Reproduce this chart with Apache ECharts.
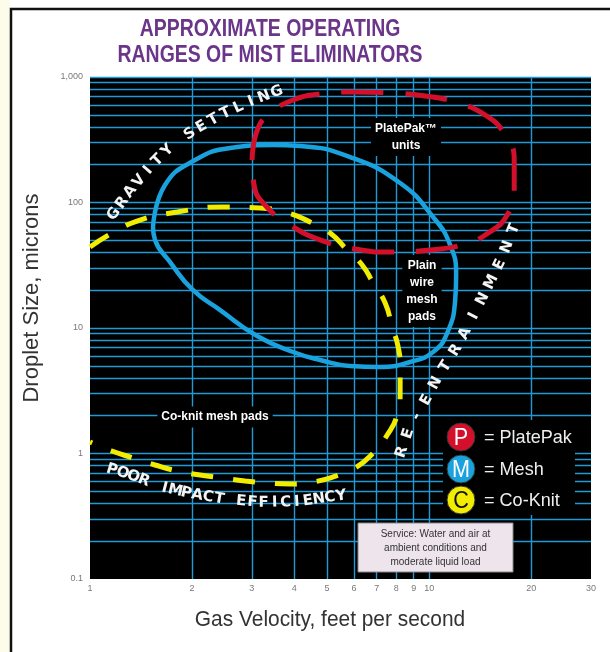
<!DOCTYPE html>
<html>
<head>
<meta charset="utf-8">
<title>Mist Eliminators</title>
<script src="https://cdn.jsdelivr.net/npm/echarts@6/dist/echarts.min.js"></script>
<style>
  html, body { margin: 0; padding: 0; background: #fff; }
  #main { width: 610px; height: 652px; }
</style>
</head>
<body>
<div id="main"></div>
<script>
    // tick labels
    var xTicks = [1, 2, 3, 4, 5, 6, 7, 8, 9, 10, 20, 30];
    var yTicks = [0.1, 1, 10, 100, 1000];
    var yTickLabels = ['0.1', '1', '10', '100', '1,000'];
    var gridX = [2, 3, 4, 5, 6, 7, 8, 9, 10, 20];
    var gridY = [0.2, 0.3, 0.4, 0.5, 0.6, 0.7, 0.8, 0.9,
                 1, 2, 3, 4, 5, 6, 7, 8, 9,
                 10, 20, 30, 40, 50, 60, 70, 80, 90,
                 100, 200, 300, 400, 500, 600, 700, 800, 900, 1000];

    // operating range outlines: [gas velocity ft/s, droplet size microns]
    var meshRange = [
        [1.534, 63.8], [1.664, 137.8], [2.04, 218], [2.59, 272], [3.47, 287], [4.16, 282],
        [5.85, 230], [8.21, 143], [10.27, 76.6], [11.53, 45.9], [12.01, 26.4], [11.93, 16.7],
        [11.3, 9.12], [10.27, 6.44], [8.79, 5.36], [7.17, 4.89], [5.85, 4.98], [4.77, 5.56],
        [3.97, 6.44], [3.11, 8.64], [2.42, 13.9], [2.01, 20.1], [1.72, 33.6], [1.555, 50.3],
        [1.534, 63.8]
    ];
    var platePakRange = [
        [3.005, 218], [3.13, 392], [3.44, 526], [3.97, 656], [4.77, 732], [6.05, 760],
        [7.67, 746], [9.73, 706], [11.93, 632], [14.63, 498], [16.76, 345], [17.81, 218],
        [17.81, 125.8], [16.99, 79.5], [14.93, 57.1], [12.77, 46.7], [10.07, 41.8], [7.67, 40.3],
        [6.05, 42.6], [4.77, 50.3], [3.89, 66.2], [3.28, 95.5], [3.046, 137.8], [3.005, 218]
    ];
    var coKnitRange = [
        [1.0, 44.2], [1.161, 57.1], [1.404, 72.5], [1.806, 84.0], [2.452, 92.1], [3.173, 90.4],
        [3.838, 82.5], [4.457, 69.9], [5.105, 57.1], [5.731, 41.8], [6.345, 31.8], [6.837, 22.8],
        [7.418, 15.8], [7.78, 10.2], [8.103, 7.06], [8.21, 4.89], [8.21, 3.09], [8.047, 2.03],
        [7.52, 1.404], [6.837, 1.01], [6.05, 0.766], [5.21, 0.65], [4.55, 0.593], [3.89, 0.571],
        [3.327, 0.582], [2.866, 0.604], [2.452, 0.638], [2.111, 0.674], [1.806, 0.726],
        [1.555, 0.81], [1.339, 0.921], [1.161, 1.047], [1.0, 1.235]
    ];

    var GRIDBLUE = '#1f9ad6';
    var RED = '#d3102c';
    var BLUE = '#19a2de';
    var YELLOW = '#f2ec00';
    var SANS = '"Liberation Sans", Arial, sans-serif';
    var HEAVY = 'bold 15px "DejaVu Sans", sans-serif';

    var chart = echarts.init(document.getElementById('main'));

    // letters spaced along a polyline (pixel path)
    function textAlong(str, pts, font) {
        var segs = [], total = 0;
        for (var i = 1; i < pts.length; i++) {
            var l = Math.hypot(pts[i][0] - pts[i - 1][0], pts[i][1] - pts[i - 1][1]);
            segs.push(l);
            total += l;
        }
        function pointAt(s) {
            s = Math.max(0, Math.min(total, s));
            var k = 0, acc = 0;
            while (k < segs.length - 1 && acc + segs[k] < s) { acc += segs[k]; k++; }
            var t = (s - acc) / segs[k];
            return [pts[k][0] + (pts[k + 1][0] - pts[k][0]) * t,
                    pts[k][1] + (pts[k + 1][1] - pts[k][1]) * t];
        }
        var out = [];
        var n = str.length;
        for (var j = 0; j < n; j++) {
            if (str[j] === ' ') continue;
            var s = total * j / (n - 1);
            var p = pointAt(s), a = pointAt(s - 6), b = pointAt(s + 6);
            var ang = Math.atan2(b[1] - a[1], b[0] - a[0]);
            out.push({
                type: 'text', x: p[0], y: p[1], rotation: -ang, z: 100,
                style: {
                    text: str[j], fill: '#f4f4f4', font: font,
                    align: 'center', verticalAlign: 'middle',
                    textAlign: 'center', textVerticalAlign: 'middle'
                }
            });
        }
        return out;
    }

    function label(text, x, y, size) {
        return {
            type: 'text', x: x, y: y, z: 90,
            style: {
                text: text, fill: '#fff', font: 'bold ' + size + 'px ' + SANS,
                align: 'center', verticalAlign: 'middle', textAlign: 'center', textVerticalAlign: 'middle',
                lineHeight: 17, backgroundColor: '#000', padding: [2, 4]
            }
        };
    }

    function legendItem(letter, name, color, letterColor, cy) {
        return [
            { type: 'circle', z: 95, shape: { cx: 461, cy: cy, r: 14 }, style: { fill: color, stroke: '#333', lineWidth: 1 } },
            { type: 'text', z: 96, x: 461, y: cy + 1, scaleX: 0.9, style: { text: letter, fill: letterColor, font: '24px ' + SANS, align: 'center', verticalAlign: 'middle', textAlign: 'center', textVerticalAlign: 'middle' } },
            { type: 'text', z: 96, x: 484, y: cy + 1, scaleX: 0.95, style: { text: '= ' + name, fill: '#eee', font: '19px ' + SANS, align: 'left', verticalAlign: 'middle', textAlign: 'left', textVerticalAlign: 'middle' } }
        ];
    }

    var markLines = [];
    gridX.forEach(function (v) { markLines.push({ xAxis: v }); });
    gridY.forEach(function (v) { markLines.push({ yAxis: v }); });

    var graphics = [
        { type: 'rect', z: 1, shape: { x: 0, y: 0, width: 10, height: 652 }, style: { fill: '#fdfbe9' } },
        { type: 'polyline', z: 2, shape: { points: [[11, 652], [11, 9], [610, 9]] }, style: { stroke: '#111', lineWidth: 2.5, fill: null } },
        { type: 'text', z: 5, x: 270, y: 29, scaleX: 0.81, style: { text: 'APPROXIMATE OPERATING', fill: '#6b3589', font: 'bold 24px ' + SANS, align: 'center', verticalAlign: 'middle', textAlign: 'center', textVerticalAlign: 'middle' } },
        { type: 'text', z: 5, x: 270, y: 55, scaleX: 0.81, style: { text: 'RANGES OF MIST ELIMINATORS', fill: '#6b3589', font: 'bold 24px ' + SANS, align: 'center', verticalAlign: 'middle', textAlign: 'center', textVerticalAlign: 'middle' } },
        { type: 'text', z: 5, x: 32, y: 298, rotation: Math.PI / 2, style: { text: 'Droplet Size, microns', fill: '#333', font: '22px ' + SANS, align: 'center', verticalAlign: 'middle', textAlign: 'center', textVerticalAlign: 'middle' } },
        { type: 'text', z: 5, x: 330, y: 620, scaleX: 0.95, style: { text: 'Gas Velocity, feet per second', fill: '#333', font: '22px ' + SANS, align: 'center', verticalAlign: 'middle', textAlign: 'center', textVerticalAlign: 'middle' } },
        label('PlatePak\u2122\nunits', 406, 137, 12),
        label('Plain\nwire\nmesh\npads', 422, 291, 12),
        label('Co-knit mesh pads', 215, 417, 12),
        { type: 'rect', z: 90, shape: { x: 443, y: 420, width: 132, height: 95 }, style: { fill: '#000' } },
        { type: 'rect', z: 90, shape: { x: 358, y: 523, width: 155, height: 49 }, style: { fill: '#eee4ec', stroke: '#888', lineWidth: 1 } },
        { type: 'text', z: 91, x: 435.5, y: 548, style: { text: 'Service: Water and air at\nambient conditions and\nmoderate liquid load', fill: '#333', font: '10px ' + SANS, lineHeight: 14, align: 'center', verticalAlign: 'middle', textAlign: 'center', textVerticalAlign: 'middle' } }
    ];
    graphics = graphics
        .concat(legendItem('P', 'PlatePak', RED, '#fff', 437))
        .concat(legendItem('M', 'Mesh', BLUE, '#fff', 469))
        .concat(legendItem('C', 'Co-Knit', YELLOW, '#111', 500))
        .concat(textAlong('GRAVITY SETTLING', [[114, 214], [130, 192], [150, 168], [172, 146], [196, 130], [222, 115], [248, 103], [277, 92]], HEAVY))
        .concat(textAlong('RE-ENTRAINMENT', [[402, 452], [410, 428], [425, 403], [440, 375], [458, 347], [474, 316], [490, 285], [503, 258], [514, 229]], HEAVY))
        .concat(textAlong('POOR IMPACT EFFICIENCY', [[112, 470], [135, 477], [160, 487], [190, 494], [225, 500], [260, 503], [300, 502], [341, 496]], HEAVY));

    var option = {
        animation: false,
        backgroundColor: '#fff',
        grid: { left: 90, right: 19, top: 77, bottom: 73, show: true, backgroundColor: '#000', borderWidth: 0 },
        xAxis: {
            type: 'log', logBase: 10, min: 1, max: 30,
            axisLine: { show: false }, axisTick: { show: false }, axisLabel: { show: false }, splitLine: { show: false }
        },
        yAxis: {
            type: 'log', logBase: 10, min: 0.1, max: 1000,
            axisLine: { show: false }, axisTick: { show: false }, axisLabel: { show: false }, splitLine: { show: false }
        },
        series: [
            {
                name: 'xticks', type: 'scatter', symbolSize: 0, silent: true,
                data: xTicks.map(function (v) { return { value: [v, 0.1], name: String(v) }; }),
                label: { show: true, position: 'bottom', distance: 5, formatter: '{b}', color: '#555', fontSize: 9, fontFamily: 'Liberation Sans' },
                markLine: {
                    silent: true, symbol: ['none', 'none'], label: { show: false },
                    lineStyle: { color: GRIDBLUE, width: 1.4, type: 'solid' },
                    data: markLines
                }
            },
            {
                name: 'yticks', type: 'scatter', symbolSize: 0, silent: true,
                data: yTicks.map(function (v, i) { return { value: [1, v], name: yTickLabels[i] }; }),
                label: { show: true, position: 'left', distance: 7, formatter: '{b}', color: '#555', fontSize: 9, fontFamily: 'Liberation Sans' }
            },
            {
                name: 'Mesh', type: 'line', smooth: 0.5, symbol: 'none', z: 5,
                lineStyle: { color: BLUE, width: 4.5 },
                data: meshRange
            },
            {
                name: 'Co-Knit', type: 'line', smooth: 0.5, symbol: 'none', z: 6,
                lineStyle: { color: YELLOW, width: 5, type: [22, 20] },
                data: coKnitRange
            },
            {
                name: 'PlatePak', type: 'line', smooth: 0.5, symbol: 'none', z: 7,
                lineStyle: { color: RED, width: 5, type: [42, 22] },
                data: platePakRange
            }
        ],
        graphic: graphics
    };
    chart.setOption(option);
</script>
</body>
</html>
